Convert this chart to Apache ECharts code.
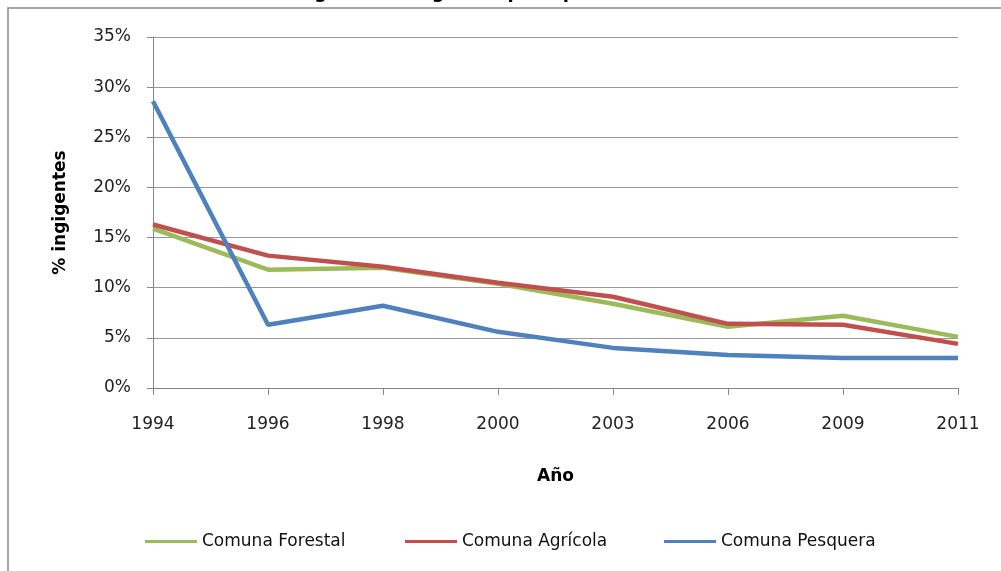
<!DOCTYPE html>
<html>
<head>
<meta charset="utf-8">
<script src="https://cdn.jsdelivr.net/npm/echarts@6/dist/echarts.min.js"></script>
<style>
  html, body { margin: 0; padding: 0; background: #fff; overflow: hidden; }
  #chart { width: 1001px; height: 571px; }
</style>
</head>
<body>
<div id="chart"></div>
<script>
// años y % de indigentes por tipo de comuna
var years = ['1994', '1996', '1998', '2000', '2003', '2006', '2009', '2011'];
var forestal = [15.9, 11.8, 12.0, 10.4, 8.4, 6.1, 7.2, 5.1];
var agricola = [16.3, 13.2, 12.1, 10.5, 9.1, 6.4, 6.3, 4.4];
var pesquera = [28.6, 6.3, 8.2, 5.6, 4.0, 3.3, 3.0, 3.0];
var seriesNames = ['Comuna Forestal', 'Comuna Agrícola', 'Comuna Pesquera'];

var fontName = 'DejaVu Sans';
var chart = echarts.init(document.getElementById('chart'));

function serie(name, data, color) {
    return {
        name: name,
        type: 'line',
        data: data,
        showSymbol: false,
        symbol: 'none',
        lineStyle: { color: color, width: 4.5 },
        itemStyle: { color: color }
    };
}

// una leyenda por serie, para separarlas como en el original
var legendLefts = [140, 400, 659];
var legends = seriesNames.map(function (n, i) {
    return {
        bottom: 16,
        left: legendLefts[i],
        itemWidth: 52,
        itemHeight: 3,
        icon: 'rect',
        textStyle: { fontFamily: fontName, fontSize: 17, color: '#111' },
        data: [n]
    };
});

chart.setOption({
    animation: false,
    backgroundColor: '#fff',
    title: {
        text: 'Figura 3: Indigentes por tipo de comuna',
        left: 'center',
        top: -21,
        textStyle: { fontFamily: fontName, fontSize: 18, fontWeight: 'bold', color: '#000' }
    },
    graphic: [{
        type: 'rect',
        shape: { x: 8, y: 8, width: 1300, height: 800 },
        style: { fill: 'none', stroke: '#8a8a8a', lineWidth: 1.5 },
        silent: true
    }],
    grid: { left: 153, right: 43, top: 37, bottom: 183 },
    legend: legends,
    xAxis: {
        type: 'category',
        data: years,
        boundaryGap: false,
        name: 'Año',
        nameLocation: 'middle',
        nameGap: 80,
        nameTextStyle: { fontFamily: fontName, fontSize: 17, fontWeight: 'bold', color: '#000' },
        axisLine: { lineStyle: { color: '#888', width: 1 } },
        axisTick: { show: true, length: 7, lineStyle: { color: '#888' } },
        axisLabel: { fontFamily: fontName, fontSize: 17, color: '#222', margin: 28 },
        splitLine: { show: false }
    },
    yAxis: {
        type: 'value',
        min: 0,
        max: 35,
        interval: 5,
        name: '% ingigentes',
        nameLocation: 'middle',
        nameGap: 84,
        nameTextStyle: { fontFamily: fontName, fontSize: 17, fontWeight: 'bold', color: '#000' },
        axisLine: { show: true, lineStyle: { color: '#888', width: 1 } },
        axisTick: { show: true, length: 6, lineStyle: { color: '#888' } },
        axisLabel: { fontFamily: fontName, fontSize: 17, color: '#222', margin: 22, formatter: '{value}%' },
        splitLine: { lineStyle: { color: '#999', width: 1.2 } }
    },
    series: [
        serie(seriesNames[0], forestal, '#9bbb59'),
        serie(seriesNames[1], agricola, '#c0504d'),
        serie(seriesNames[2], pesquera, '#4f81bd')
    ]
});
</script>
</body>
</html>
